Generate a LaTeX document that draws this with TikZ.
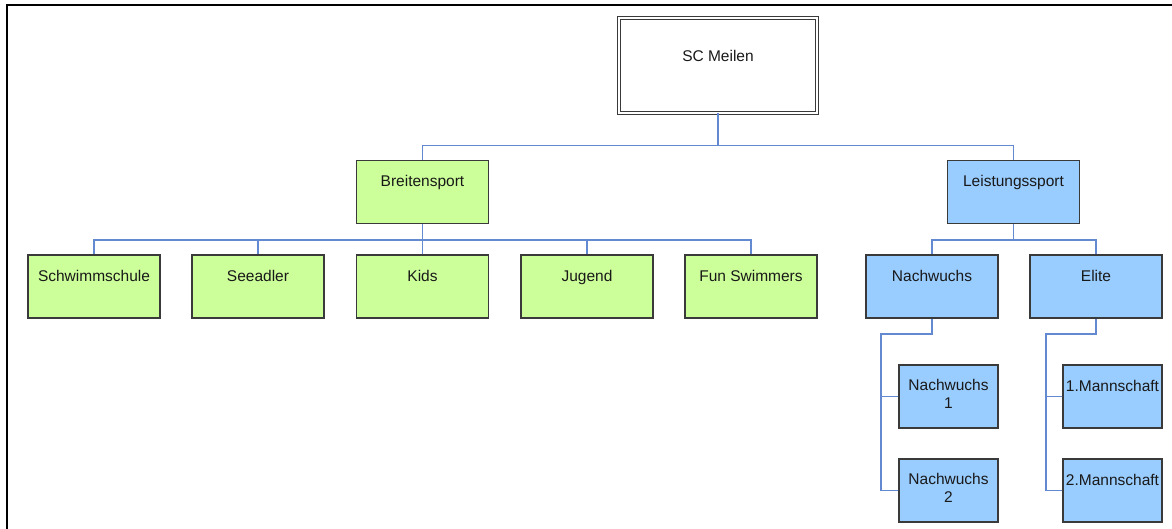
\documentclass[tikz,border=0pt]{standalone}
\usepackage{fontspec}
\setmainfont{Liberation Sans}
\definecolor{boxgreen}{HTML}{CCFF99}
\definecolor{boxblue}{HTML}{99CCFF}
\definecolor{boxline}{HTML}{3A3A3A}
\definecolor{linkblue}{HTML}{6389D0}
\tikzset{
  unit/.style={draw=boxline, line width=1.5pt, rectangle, inner sep=0pt,
    minimum width=132pt, minimum height=63pt, align=center,
    text height=26pt, text depth=37pt, text=black!90,
    font=\fontsize{15.5}{17.5}\selectfont},
  green unit/.style={unit, fill=boxgreen},
  blue unit/.style={unit, fill=boxblue},
  leaf unit/.style={blue unit, minimum width=99pt},
  two lines/.style={text height=43pt, text depth=20pt},
  link/.style={draw=linkblue, line width=1.6pt}
}
\begin{document}
\begin{tikzpicture}[x=1pt,y=-1pt]
      \useasboundingbox (0,0) rectangle (1172,529);
      \draw[line width=1.8pt] (7,529) -- (7,5) -- (1172,5);
      \node[unit, fill=white, minimum width=198pt, minimum height=95pt,
        text height=44pt, text depth=51pt, line width=1pt,
        double=white, double distance=1.6pt] (club) at (718,65.5) {SC Meilen};
      \draw
        (422.5,192) node[green unit] (breit){Breitensport}
        (1013.5,192) node[blue unit] (leist){Leistungssport}
        (94,286.5) node[green unit] (schule){Schwimmschule}
        (258,286.5) node[green unit] (adler){Seeadler}
        (422.5,286.5) node[green unit] (kids){Kids}
        (587,286.5) node[green unit] (jugend){Jugend}
        (751,286.5) node[green unit] (fun){Fun Swimmers}
        (932,286.5) node[blue unit] (nach){Nachwuchs}
        (1096,286.5) node[blue unit] (elite){Elite}
        (948.5,396.5) node[leaf unit, two lines] (nacha){Nachwuchs\\1}
        (948.5,490.5) node[leaf unit, two lines] (nachb){Nachwuchs\\2}
        (1112.5,396.5) node[leaf unit] (manna){1.Mannschaft}
        (1112.5,490.5) node[leaf unit] (mannb){2.Mannschaft};
      \begin{scope}[link]
        \draw (club.south) -- ++(0,32) -| (breit.north);
        \draw (club.south) -- ++(0,32) -| (leist.north);
        \draw (breit.south) -- ++(0,16) -| (schule.north);
        \draw (breit.south) -- ++(0,16) -| (adler.north);
        \draw (breit.south) -- (kids.north);
        \draw (breit.south) -- ++(0,16) -| (jugend.north);
        \draw (breit.south) -- ++(0,16) -| (fun.north);
        \draw (leist.south) -- ++(0,16) -| (nach.north);
        \draw (leist.south) -- ++(0,16) -| (elite.north);
        \draw (nach.south) -- ++(0,15) -| ([xshift=-17pt]nacha.west) -- (nacha.west);
        \draw (nach.south) -- ++(0,15) -| ([xshift=-17pt]nachb.west) -- (nachb.west);
        \draw (elite.south) -- ++(0,15) -| ([xshift=-16pt]manna.west) -- (manna.west);
        \draw (elite.south) -- ++(0,15) -| ([xshift=-16pt]mannb.west) -- (mannb.west);
      \end{scope}
    \end{tikzpicture}
\end{document}
